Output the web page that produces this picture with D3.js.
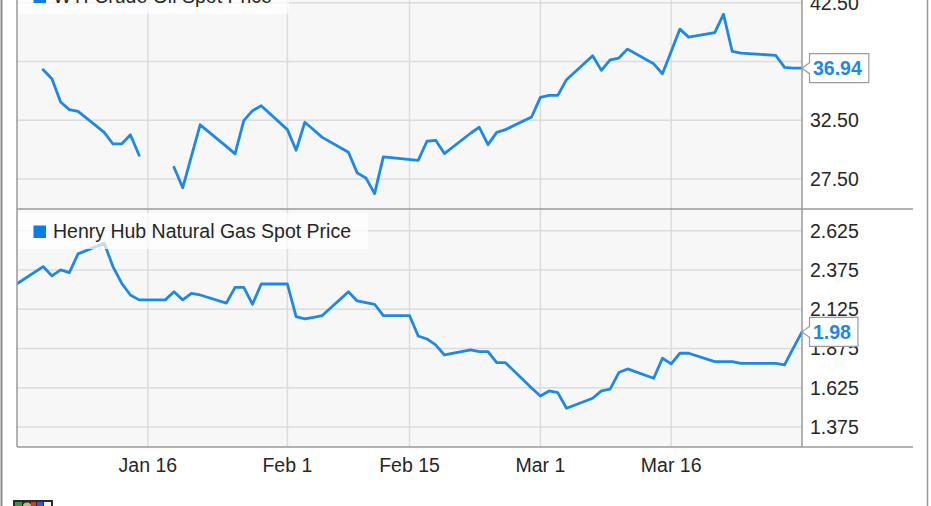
<!DOCTYPE html>
<html><head><meta charset="utf-8">
<script src="https://cdn.jsdelivr.net/npm/d3@7"></script>
<style>
html,body{margin:0;padding:0;background:#fff;overflow:hidden;}
svg{display:block;font-family:"Liberation Sans",Arial,sans-serif;}
</style></head><body>
<svg id="chart" width="931" height="506"></svg>
<script>
// ---- data ----
const seriesNames = ["WTI Crude Oil Spot Price", "Henry Hub Natural Gas Spot Price"];
const oilDates = ["2016-01-04","2016-01-05","2016-01-06","2016-01-07","2016-01-08","2016-01-11","2016-01-12","2016-01-13","2016-01-14","2016-01-15","2016-01-18","2016-01-19","2016-01-20","2016-01-21","2016-01-22","2016-01-25","2016-01-26","2016-01-27","2016-01-28","2016-01-29","2016-02-01","2016-02-02","2016-02-03","2016-02-04","2016-02-05","2016-02-08","2016-02-09","2016-02-10","2016-02-11","2016-02-12","2016-02-16","2016-02-17","2016-02-18","2016-02-19","2016-02-22","2016-02-23","2016-02-24","2016-02-25","2016-02-26","2016-02-29","2016-03-01","2016-03-02","2016-03-03","2016-03-04","2016-03-07","2016-03-08","2016-03-09","2016-03-10","2016-03-11","2016-03-14","2016-03-15","2016-03-16","2016-03-17","2016-03-18","2016-03-21","2016-03-22","2016-03-23","2016-03-24","2016-03-28","2016-03-29","2016-03-30","2016-03-31"];
const oilValues = [36.80,36.04,34.06,33.41,33.26, 31.48,30.49,30.49,31.28,29.53, null, 28.51,26.76,29.45,32.12, 30.29,29.65,32.47,33.32,33.74, 31.71,29.95,32.34,31.70,31.05, 29.78,28.03,27.60,26.27,29.39, 29.10,30.72,30.80,29.67, 31.40,31.91,30.43,31.48,31.71, 32.78, 34.45,34.62,34.62,35.96, 38.00,36.75,37.65,37.80,38.56, 37.31,36.46,38.36,40.26,39.58, 39.97,41.53,38.36,38.22, 38.02,37.00,36.95,36.94];
const gasDates = ["2015-12-31","2016-01-04","2016-01-05","2016-01-06","2016-01-07","2016-01-08","2016-01-11","2016-01-12","2016-01-13","2016-01-14","2016-01-15","2016-01-18","2016-01-19","2016-01-20","2016-01-21","2016-01-22","2016-01-25","2016-01-26","2016-01-27","2016-01-28","2016-01-29","2016-02-01","2016-02-02","2016-02-03","2016-02-04","2016-02-05","2016-02-08","2016-02-09","2016-02-10","2016-02-11","2016-02-12","2016-02-15","2016-02-16","2016-02-17","2016-02-18","2016-02-19","2016-02-22","2016-02-23","2016-02-24","2016-02-25","2016-02-26","2016-02-29","2016-03-01","2016-03-02","2016-03-03","2016-03-04","2016-03-07","2016-03-08","2016-03-09","2016-03-10","2016-03-11","2016-03-14","2016-03-15","2016-03-16","2016-03-17","2016-03-18","2016-03-21","2016-03-22","2016-03-23","2016-03-24","2016-03-28","2016-03-29","2016-03-30","2016-03-31"];
const gasValues = [2.25, 2.396,2.337,2.375,2.358,2.477, 2.545,2.396,2.290,2.215,2.184, 2.184,2.236,2.184,2.226,2.215, 2.163,2.264,2.264,2.156,2.285, 2.285,2.077,2.063,2.073,2.084, 2.236,2.177,2.167,2.156,2.084, 2.084,1.954,1.935,1.897,1.833, 1.865,1.854,1.854,1.784,1.784, 1.623, 1.572,1.604,1.593,1.494, 1.557,1.604,1.615,1.721,1.744, 1.685,1.812,1.776,1.844,1.844, 1.791,1.791,1.791,1.780, 1.780,1.770,1.876,1.980];
const oilTicks = [27.5, 32.5, 37.5, 42.5];
const gasTicks = [1.375, 1.625, 1.875, 2.125, 2.375, 2.625];
const xTickDates = ["2016-01-16","2016-02-01","2016-02-15","2016-03-01","2016-03-16"];
const xTickLabels = ["Jan 16","Feb 1","Feb 15","Mar 1","Mar 16"];
const xDomain = ["2016-01-01","2016-03-31"];
const lastLabels = ["36.94","1.98"];

// ---- setup ----
const parse = d3.utcParse("%Y-%m-%d");
const svg = d3.select("#chart");
const W = 931, H = 506;
const plotL = 17, plotR = 802, axisR = 913;
const blue = "#1e88e5";
const FS = 19.5;

const x = d3.scaleUtc().domain(xDomain.map(parse)).range([plotL, plotR]);
const panels = [
  {dates: oilDates, values: oilValues, ticks: oilTicks, fmt: d3.format(".2f"),
   y: d3.scaleLinear().domain([25, 45]).range([208.5, -26.6]), top: -30, bottom: 209, legendBase: 3},
  {dates: gasDates, values: gasValues, ticks: gasTicks, fmt: d3.format(".3f"),
   y: d3.scaleLinear().domain([1.25, 2.75]).range([446.5, 211]), top: 209, bottom: 447, legendBase: 238}
];

// outer frame
svg.append("line").attr("x1", 1.5).attr("x2", 1.5).attr("y1", 0).attr("y2", H).attr("stroke", "#8a8a8a").attr("stroke-width", 2);
svg.append("line").attr("x1", 927.5).attr("x2", 927.5).attr("y1", 0).attr("y2", H).attr("stroke", "#9a9a9a").attr("stroke-width", 1.5);

const defs = svg.append("defs");

panels.forEach((p, i) => {
  const g = svg.append("g");
  g.append("rect").attr("x", plotL).attr("y", p.top).attr("width", plotR - plotL).attr("height", p.bottom - p.top).attr("fill", "#f7f7f7");
  // horizontal grid
  g.selectAll(".hg").data(p.ticks).join("line")
    .attr("x1", plotL).attr("x2", plotR)
    .attr("y1", d => p.y(d)).attr("y2", d => p.y(d))
    .attr("stroke", "#dcdcdc").attr("stroke-width", 1.5);
  // vertical grid
  g.selectAll(".vg").data(xTickDates.map(parse)).join("line")
    .attr("x1", d => x(d)).attr("x2", d => x(d))
    .attr("y1", p.top).attr("y2", p.bottom)
    .attr("stroke", "#dcdcdc").attr("stroke-width", 1.5);
  // clip
  defs.append("clipPath").attr("id", "clip" + i).append("rect")
    .attr("x", plotL).attr("y", p.top).attr("width", plotR - plotL + 1).attr("height", p.bottom - p.top);
  const pts = p.dates.map((d, k) => ({d: parse(d), v: p.values[k]}));
  const line = d3.line().defined(d => d.v !== null).x(d => x(d.d)).y(d => p.y(d.v));
  g.append("path").attr("clip-path", `url(#clip${i})`).attr("d", line(pts))
    .attr("fill", "none").attr("stroke", blue).attr("stroke-width", 2.8)
    .attr("stroke-linejoin", "round").attr("stroke-linecap", "round");
  // legend
  const lg = g.append("g");
  const box = lg.append("rect").attr("fill", "#ffffff").attr("fill-opacity", 0.7);
  lg.append("rect").attr("x", 33.5).attr("y", p.legendBase - 12.5).attr("width", 12.5).attr("height", 12.5).attr("fill", "#0a7ce3");
  const t = lg.append("text").attr("x", 53).attr("y", p.legendBase).attr("font-size", FS).attr("fill", "#262626").text(seriesNames[i]);
  const tw = t.node().getComputedTextLength();
  box.attr("x", plotL + 1).attr("y", p.legendBase - 25).attr("width", 53 + tw + 16 - plotL).attr("height", 36);
});

// borders
const bc = "#9a9a9a";
svg.append("line").attr("x1", plotL).attr("x2", plotL).attr("y1", 0).attr("y2", 447).attr("stroke", bc).attr("stroke-width", 1.5);
svg.append("line").attr("x1", plotR).attr("x2", plotR).attr("y1", 0).attr("y2", 447).attr("stroke", bc).attr("stroke-width", 1.5);
[209, 447].forEach(yy => svg.append("line").attr("x1", plotL).attr("x2", axisR).attr("y1", yy).attr("y2", yy).attr("stroke", bc).attr("stroke-width", 1.5));

// y tick labels and value flags
panels.forEach((p, i) => {
  svg.append("g").selectAll("text").data(p.ticks).join("text")
    .attr("x", 810).attr("y", d => p.y(d)).attr("dy", "0.36em")
    .attr("font-size", FS).attr("fill", "#262626").text(d => p.fmt(d));
  const lastV = p.values[p.values.length - 1];
  const cy = p.y(lastV);
  const fg = svg.append("g");
  const path = fg.append("path").attr("fill", "#fff").attr("stroke", "#9a9a9a").attr("stroke-width", 1.2);
  const tt = fg.append("text").attr("x", 813).attr("y", cy).attr("dy", "0.36em")
    .attr("font-size", FS).attr("font-weight", "bold").attr("fill", blue).text(lastLabels[i]);
  const w = tt.node().getComputedTextLength();
  const L = 809.5, R = 813 + w + 7, T = cy - 14.5, B = cy + 14.5;
  path.attr("d", `M${plotR},${cy} L${L},${cy - 5.5} L${L},${T} L${R},${T} L${R},${B} L${L},${B} L${L},${cy + 5.5} Z`);
});

// x labels
svg.append("g").selectAll("text").data(xTickDates).join("text")
  .attr("x", d => x(parse(d))).attr("y", 471.7).attr("text-anchor", "middle")
  .attr("font-size", FS).attr("fill", "#262626").text((d, k) => xTickLabels[k]);

// logo (partial, cut off at bottom)
const lg = svg.append("g");
lg.append("rect").attr("x", 13).attr("y", 500).attr("width", 40).attr("height", 12).attr("fill", "#2b2b2b");
lg.append("rect").attr("x", 15).attr("y", 502).attr("width", 7).attr("height", 10).attr("fill", "#2f9b3c");
lg.append("ellipse").attr("cx", 27).attr("cy", 506).attr("rx", 4).attr("ry", 3.5).attr("fill", "#d8b27a");
lg.append("rect").attr("x", 31).attr("y", 502).attr("width", 5).attr("height", 10).attr("fill", "#d23a2a");
lg.append("rect").attr("x", 37).attr("y", 502).attr("width", 6).attr("height", 10).attr("fill", "#2c5fd0");
lg.append("rect").attr("x", 44).attr("y", 502).attr("width", 7).attr("height", 10).attr("fill", "#f2f2f2");
</script>
</body></html>
